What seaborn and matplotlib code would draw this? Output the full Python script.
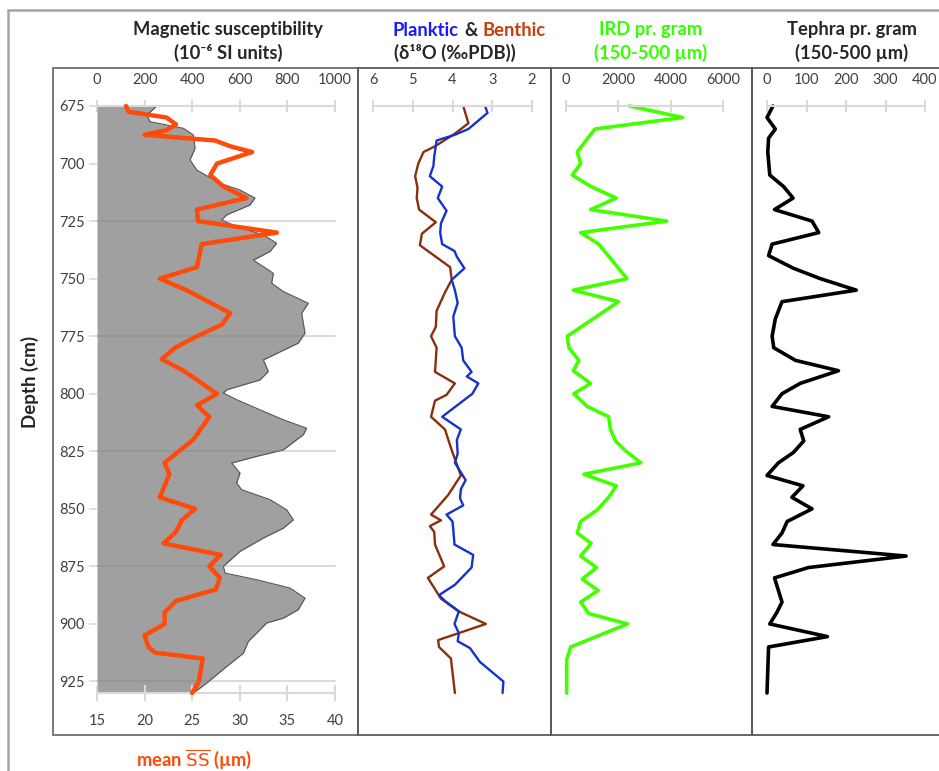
import numpy as np
import pandas as pd
import matplotlib
matplotlib.use("Agg")
import matplotlib.pyplot as plt
import seaborn as sns

sns.set_style("white")
plt.rcParams['font.family'] = ['Lato', 'DejaVu Sans']

#%% Data (read off the core log)

# mean sortable silt, SS (um)
depth_ss = [675, 677.5, 680, 683, 685.5, 687.5, 690, 692.5, 695, 700, 705, 710, 715, 720,
            725, 730, 735, 745, 750, 755, 765, 770, 775, 780, 785, 790, 800, 805, 810,
            820, 830, 835, 845, 850, 855, 860, 865, 870, 875, 880, 885, 890, 895, 900,
            905, 910, 912.5, 915, 925, 930]
mean_ss = [18.05, 18.3, 22.3, 23.3, 22.3, 20.0, 27.4, 29.0, 31.3, 27.6, 26.9, 28.3, 30.7, 25.5,
           25.6, 33.9, 26.0, 25.5, 21.6, 24.4, 29.0, 28.1, 25.5, 23.2, 21.8, 24.1, 27.6, 25.5, 26.8,
           25.1, 22.1, 22.6, 21.6, 25.3, 23.9, 23.3, 22.0, 28.0, 26.8, 27.9, 27.5, 23.3, 22.1, 22.1,
           20.0, 20.4, 21.1, 26.1, 25.7, 25.0]

# magnetic susceptibility (10^-6 SI)
depth_ms = [675, 679, 681.8, 684.7, 687.6, 693.4, 698.4, 702.8, 708.6, 711.5, 715, 718, 722.3,
            724.5, 727.4, 731, 734.6, 738.2, 742, 744.8, 747.7, 752, 755.6, 760.7, 765, 773.7,
            778, 785.3, 790.3, 794, 798.3, 799.7, 802.6, 807, 811.3, 815, 817.8, 824.4, 827.2,
            830.1, 834.5, 838.8, 841.7, 846, 850.4, 854.8, 858.4, 862.7, 868.5, 875, 877.9,
            880.8, 884.4, 888.8, 893.8, 897.5, 899.6, 904, 907.6, 912.7, 918.5, 925.7, 930]
mag_sus = [251, 209, 223, 363, 405, 412, 391, 419, 517, 601, 664, 643, 545,
           524, 587, 699, 755, 727, 657, 699, 741, 734, 783, 888, 860, 874,
           846, 699, 720, 685, 545, 531, 587, 685, 783, 881, 867, 783, 671,
           566, 601, 587, 608, 727, 797, 825, 783, 699, 601, 531, 538,
           671, 811, 874, 846, 783, 713, 671, 636, 615, 545, 461, 405]

# planktic d18O
depth_pl = [675, 678, 685, 687.5, 690, 697, 701, 705.5, 710, 715, 720.5, 726, 730, 735, 738,
            740.5, 745.5, 750.5, 755, 760.5, 766.5, 775, 780, 785.5, 790.5, 792.5, 795.5, 800,
            810, 815.5, 820, 826, 830, 837.5, 841.5, 845.5, 848.5, 852.5, 855.5, 859, 865.5,
            870, 875.5, 883, 887.5, 890, 894.5, 900, 904, 907.5, 910.5, 916.5, 925, 930]
planktic = [3.18, 3.12, 3.60, 3.94, 4.40, 4.46, 4.48, 4.57, 4.26, 4.37, 4.15, 4.29, 4.31, 4.26, 3.95,
            3.89, 3.70, 4.02, 3.94, 3.87, 3.98, 3.94, 3.77, 3.73, 3.52, 3.64, 3.35, 3.50,
            4.26, 3.79, 3.89, 3.87, 3.94, 3.67, 3.79, 3.81, 3.73, 4.15, 4.00, 3.98, 3.95,
            3.48, 3.52, 3.94, 4.34, 4.19, 3.84, 3.95, 3.84, 3.87, 3.56, 3.31, 2.72, 2.74]

# benthic d18O
depth_be = [675, 682.5, 687, 692.5, 695, 700, 705.5, 710.5, 715, 720, 725.5, 730.5, 735.5, 745,
            750.5, 756, 764, 771, 775, 780, 790.5, 795.5, 800.5, 803, 810, 815.5, 824.5, 835.5,
            844, 852.5, 855, 857.5, 860, 865.5, 875, 880, 889, 894.5, 900, 907, 910, 915, 924, 930]
benthic = [3.73, 3.60, 3.94, 4.44, 4.73, 4.86, 4.94, 4.88, 4.90, 4.84, 4.42, 4.77, 4.82, 4.06,
           4.02, 4.19, 4.40, 4.42, 4.54, 4.40, 4.44, 3.94, 4.15, 4.44, 4.54, 4.19, 4.02, 3.79,
           4.11, 4.54, 4.29, 4.57, 4.46, 4.44, 4.21, 4.62, 4.29, 3.85, 3.16, 4.36, 4.34, 4.04, 3.98, 3.94]

# IRD per gram (150-500 um)
depth_ird = [675, 680, 685, 695, 700, 705, 710, 715, 720, 725, 730, 735, 750, 755, 760, 775, 780,
             785.5, 790, 795.5, 800, 805.5, 810, 815.5, 820.5, 825, 830, 835, 840, 845, 850.5,
             855.5, 860.5, 865, 870.5, 875.5, 880.5, 885.5, 890.5, 895.5, 900, 910, 915.5, 930]
ird = [2430, 4460, 1100, 430, 560, 240, 960, 1920, 940, 3850, 560, 1250, 2330, 280, 2010, 50, 110,
       490, 280, 940, 300, 810, 1630, 1700, 1890, 2300, 2860, 680, 1920, 1630, 1190,
       560, 430, 960, 560, 1170, 620, 1230, 560, 870, 2350, 180, 25, 25]

# tephra per gram (150-500 um)
depth_teph = [675, 680, 685, 689, 695, 705, 710, 715, 720, 725, 730, 735, 740, 745.5, 750, 755,
              760, 767.5, 775, 780, 785.5, 790, 795.5, 800, 805.5, 810, 815.5, 820.5, 825.5, 830,
              835.5, 840, 845, 850, 855.5, 860.5, 865.5, 870.5, 875.5, 880, 890.5, 895, 900,
              905.5, 910, 930]
tephra = [15, 0, 21, 4, 2, 7, 42, 66, 19, 114, 131, 13, 4, 67, 135, 226,
          38, 21, 13, 17, 72, 181, 84, 38, 13, 156, 84, 93, 67, 29,
          0, 91, 63, 114, 51, 38, 15, 352, 105, 19, 38, 25, 7,
          153, 4, 0]

depth_ticks = [675, 700, 725, 750, 775, 800, 825, 850, 875, 900, 925]
grid_depths = [725, 775, 825, 875, 925]

#%% Figure layout

W, H = 939, 771
fig = plt.figure(figsize = (W / 100, H / 100), dpi = 100)

def rect(x0, x1, y0 = 106, y1 = 693):
    return [x0 / W, 1 - y1 / H, (x1 - x0) / W, (y1 - y0) / H]

axis_grey = '#d9d9d9'
text_col = '#404040'
orange = '#ff4a0a'
tick_fs = 10.5

def style_top(ax, lim, ticks):
    ax.set_xlim(lim)
    ax.set_xticks(ticks)
    ax.xaxis.tick_top()
    for s in ['left', 'right', 'bottom']:
        ax.spines[s].set_visible(False)
    ax.spines['top'].set_visible(True)
    ax.spines['top'].set_color(axis_grey)
    ax.spines['top'].set_linewidth(1.5)
    ax.tick_params(axis = 'x', direction = 'inout', length = 9, width = 1.5, color = axis_grey,
                   labelsize = tick_fs, labelcolor = text_col, pad = 9)
    ax.set_ylim(930, 675)
    ax.set_xlabel('')
    ax.set_ylabel('')
    ax.patch.set_alpha(0)

#%% Panel 1 - magnetic susceptibility + mean SS

ax1 = fig.add_axes(rect(97, 335))
ax1b = ax1.twiny()

ax1.fill_betweenx(depth_ms, 0, mag_sus, color = '#a0a0a0', lw = 0)
sns.lineplot(x = mag_sus, y = depth_ms, orient = 'y', estimator = None, sort = False,
             color = '#555555', lw = 0.8, ax = ax1)
style_top(ax1, (0, 1000), [0, 200, 400, 600, 800, 1000])
ax1.set_yticks(depth_ticks)
ax1.tick_params(axis = 'y', direction = 'out', length = 6, width = 1.2, color = axis_grey,
                labelsize = tick_fs, labelcolor = text_col, pad = 3, left = True)

for d in grid_depths:
    ax1b.axhline(d, color = '#7f7f7f', alpha = 0.3, lw = 1.3, zorder = 1)
sns.lineplot(x = mean_ss, y = depth_ss, orient = 'y', estimator = None, sort = False,
             color = orange, lw = 3.2, ax = ax1b, zorder = 3)
ax1b.set_xlim(15, 40)
ax1b.set_xticks([15, 20, 25, 30, 35, 40])
ax1b.xaxis.tick_bottom()
for s in ['left', 'right', 'top']:
    ax1b.spines[s].set_visible(False)
ax1b.spines['bottom'].set_visible(True)
ax1b.spines['bottom'].set_color(axis_grey)
ax1b.spines['bottom'].set_linewidth(1.5)
ax1b.tick_params(axis = 'x', direction = 'inout', length = 12, width = 1.5, color = axis_grey,
                 labelsize = tick_fs, labelcolor = text_col, pad = 9)
ax1b.set_xlabel('')
ax1b.set_ylabel('')
ax1b.set_ylim(930, 675)

# twiny moves the first x axis to the bottom; put it back on top
ax1.xaxis.tick_top()
ax1.tick_params(axis = 'x', direction = 'inout', length = 9, width = 1.5, color = axis_grey,
                labelsize = tick_fs, labelcolor = text_col, pad = 9)

#%% Panel 2 - d18O

ax2 = fig.add_axes(rect(373, 532))
sns.lineplot(x = benthic, y = depth_be, orient = 'y', estimator = None, sort = False,
             color = '#8a2e0c', lw = 1.7, ax = ax2)
sns.lineplot(x = planktic, y = depth_pl, orient = 'y', estimator = None, sort = False,
             color = '#1432cc', lw = 1.7, ax = ax2)
style_top(ax2, (6, 2), [6, 5, 4, 3, 2])
ax2.set_yticks([])

#%% Panel 3 - IRD

ax3 = fig.add_axes(rect(566, 723))
sns.lineplot(x = ird, y = depth_ird, orient = 'y', estimator = None, sort = False,
             color = '#44ff00', lw = 2.6, ax = ax3)
style_top(ax3, (0, 6000), [0, 2000, 4000, 6000])
ax3.set_yticks([])

#%% Panel 4 - tephra

ax4 = fig.add_axes(rect(767, 925))
sns.lineplot(x = tephra, y = depth_teph, orient = 'y', estimator = None, sort = False,
             color = 'black', lw = 2.6, ax = ax4)
style_top(ax4, (0, 400), [0, 100, 200, 300, 400])
ax4.set_yticks([])

for ax in [ax1, ax1b, ax2, ax3, ax4]:
    for ln in ax.lines:
        ln.set_clip_on(False)

#%% Frames

def frame(x0, y0, x1, y1, col, lw):
    fig.add_artist(plt.Rectangle((x0 / W, 1 - y1 / H), (x1 - x0) / W, (y1 - y0) / H,
                                 transform = fig.transFigure, fill = False, ec = col, lw = lw))

frame(7.5, 10, 990, 820, '#a6a6a6', 1.8)
frame(53, 68, 358, 735, '#6e6e6e', 1.3)
frame(358, 68, 551, 735, '#5a5a5a', 1.3)
frame(551, 68, 752, 735, '#5a5a5a', 1.3)
frame(752, 68, 990, 735, '#5a5a5a', 1.3)

#%% Titles

def ftext(x, y, s, **kw):
    fig.text(x / W, 1 - y / H, s, va = 'center', fontweight = 'bold', fontsize = 13.2, **kw)

ftext(228, 30, 'Magnetic susceptibility', ha = 'center')
ftext(228, 53, '(10⁻⁶ SI units)', ha = 'center')
ftext(459, 30, 'Planktic', ha = 'right', color = '#1a1aff')
ftext(471, 30, '&', ha = 'center')
ftext(483, 30, 'Benthic', ha = 'left', color = '#c4400c')
ftext(455, 53, '(δ¹⁸O (‰PDB))', ha = 'center')
ftext(651, 30, 'IRD pr. gram', ha = 'center', color = '#33ff00')
ftext(651, 53, '(150-500 µm)', ha = 'center', color = '#33ff00')
ftext(852, 30, 'Tephra pr. gram', ha = 'center')
ftext(852, 53, '(150-500 µm)', ha = 'center')
ftext(194, 759, r'mean $\overline{\mathsf{SS}}$ (µm)', ha = 'center', color = orange)
fig.text(30 / W, 1 - 382 / H, 'Depth (cm)', rotation = 90, ha = 'center', va = 'center',
         fontweight = 'bold', fontsize = 13.5)

fig.savefig('out.png', dpi = 100)
